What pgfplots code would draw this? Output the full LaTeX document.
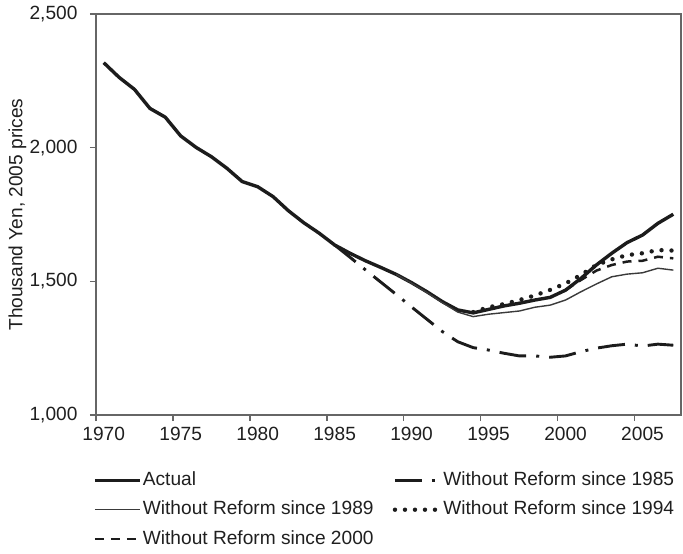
\documentclass[border=0pt]{standalone}
\usepackage{fontspec}
\setmainfont{Liberation Sans}
\usepackage{pgfplots}
\pgfplotsset{compat=1.18}
\usepackage{pgfplotstable}

\definecolor{axisgray}{HTML}{666666}
\definecolor{lineblack}{HTML}{1C1C1C}
\definecolor{thingray}{HTML}{3A3A3A}

\pgfplotstableread{
year val
1970 2318
1971 2263
1972 2218
1973 2147
1974 2114
1975 2044
1976 2001
1977 1966
1978 1923
1979 1873
1980 1854
1981 1817
1982 1764
1983 1719
1984 1680
1985 1636
1986 1605
1987 1577
1988 1552
1989 1526
1990 1495
1991 1461
1992 1424
1993 1393
1994 1382
1995 1395
1996 1408
1997 1418
1998 1430
1999 1440
2000 1467
2001 1511
2002 1561
2003 1605
2004 1645
2005 1673
2006 1717
2007 1751
}\actual

\pgfplotstableread{
year val
1985 1636
1986 1590
1987 1543
1988 1497
1989 1451
1990 1404
1991 1358
1992 1312
1993 1274
1994 1252
1995 1243
1996 1231
1997 1221
1998 1221
1999 1216
2000 1221
2001 1237
2002 1250
2003 1259
2004 1265
2005 1258
2006 1265
2007 1261
}\wrA

\pgfplotstableread{
year val
1989 1526
1990 1493
1991 1458
1992 1420
1993 1385
1994 1368
1995 1377
1996 1383
1997 1389
1998 1403
1999 1411
2000 1430
2001 1461
2002 1490
2003 1517
2004 1527
2005 1532
2006 1549
2007 1542
}\wrB

\pgfplotstableread{
year val
1994 1385
1995 1403
1996 1415
1997 1430
1998 1447
1999 1468
2000 1492
2001 1524
2002 1561
2003 1582
2004 1598
2005 1605
2006 1617
2007 1615
}\wrC

\pgfplotstableread{
year val
2000 1467
2001 1505
2002 1540
2003 1561
2004 1574
2005 1577
2006 1592
2007 1586
}\wrD

\begin{document}
\begin{tikzpicture}
\begin{axis}[
  scale only axis, width=585bp, height=401bp,
  xmin=1969.5, xmax=2007.5, ymin=1000, ymax=2500,
  xtick={1969.5,1974.5,1979.5,1984.5,1989.5,1994.5,1999.5,2004.5},
  xticklabels={1970,1975,1980,1985,1990,1995,2000,2005},
  ytick={1000,1500,2000,2500},
  scaled y ticks=false,
  /pgf/number format/1000 sep={,},
  /pgf/number format/assume math mode=true,
  tick align=outside,
  xtick pos=left, ytick pos=left,
  major tick length=6bp,
  axis line style={axisgray, line width=1.5bp},
  every tick/.style={axisgray, line width=1.2bp},
  tick label style={font=\fontsize{19.2}{23}\selectfont, text=black!88},
  xticklabel style={xshift=7.7bp, yshift=-3bp},
  yticklabel style={xshift=-9bp},
  ylabel={Thousand Yen, 2005 prices},
  ylabel style={font=\fontsize{19.2}{23}\selectfont, text=black!88, at={(axis description cs:-0.1342,0.5)}, anchor=center},
  legend columns=2,
  legend cell align=left,
  legend image code/.code={\draw[#1] (0bp,0bp) -- (45bp,0bp);},
  legend style={at={(axis description cs:-0.005,-0.1397)}, anchor=north west,
    draw=none, fill=none, inner sep=0pt,
    font=\fontsize{19.2}{23}\selectfont, text=black!88,
    row sep=11.5bp,
    nodes={inner xsep=1.2bp, inner ysep=0pt, text height=14bp, text depth=4bp},
    /tikz/every even column/.append style={column sep=18bp}},
]
\addplot[lineblack, line width=3.4bp, line join=round] table[x=year,y=val]{\actual};
\addlegendentry{Actual}
\addplot[lineblack, line width=2.9bp, dash pattern=on 27bp off 10bp on 3bp off 10bp] table[x=year,y=val]{\wrA};
\addlegendentry{Without Reform since 1985}
\addplot[thingray, line width=1.4bp, line join=round] table[x=year,y=val]{\wrB};
\addlegendentry{Without Reform since 1989}
\addplot[lineblack, line width=4.4bp, line cap=round, dash pattern=on 0bp off 10bp] table[x=year,y=val]{\wrC};
\addlegendentry{Without Reform since 1994}
\addplot[lineblack, line width=2.5bp, dash pattern=on 9bp off 7bp] table[x=year,y=val]{\wrD};
\addlegendentry{Without Reform since 2000}
\end{axis}
\pgfresetboundingbox
\useasboundingbox (-96bp,-139bp) rectangle (587bp,415bp);
\end{tikzpicture}
\end{document}
